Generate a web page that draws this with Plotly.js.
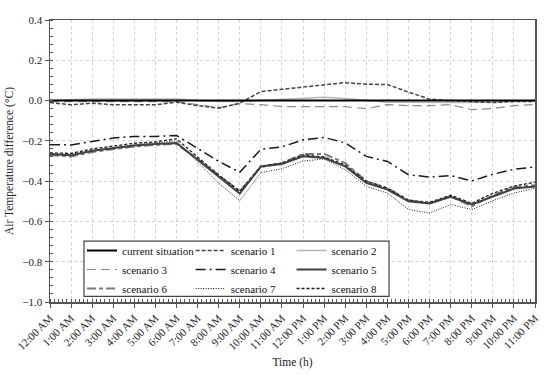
<!DOCTYPE html>
<html>
<head>
<meta charset="utf-8">
<script src="https://cdn.plot.ly/plotly-3.0.1.min.js"></script>
<style>html,body{margin:0;padding:0;background:#fff;}#chart{width:550px;height:375px;}</style>
</head>
<body>
<div id="chart"></div>
<script>
const hours = ['12:00 AM','1:00 AM','2:00 AM','3:00 AM','4:00 AM','5:00 AM','6:00 AM','7:00 AM','8:00 AM','9:00 AM','10:00 AM','11:00 AM',
  '12:00 PM','1:00 PM','2:00 PM','3:00 PM','4:00 PM','5:00 PM','6:00 PM','7:00 PM','8:00 PM','9:00 PM','10:00 PM','11:00 PM'];

const currentSituation = [0,0,0,0,0,0,0,0,0,0,0,0,0,0,0,0,0,0,0,0,0,0,0,0];
const scenario1 = [-0.01,-0.021,-0.013,-0.021,-0.021,-0.021,-0.008,-0.025,-0.038,-0.013,0.045,0.056,0.068,0.08,0.089,0.081,0.08,0.042,0.007,0.0,-0.005,-0.01,-0.005,-0.005];
const scenario2 = [0,0.004,0.008,0.008,0.008,0.008,0.008,0,-0.005,-0.005,0,0.005,0.012,0.017,0.01,0,-0.008,-0.008,-0.01,-0.01,-0.01,-0.008,-0.004,0];
const scenario3 = [-0.005,-0.005,-0.005,-0.005,-0.005,-0.005,-0.005,-0.02,-0.035,-0.015,-0.02,-0.03,-0.03,-0.03,-0.03,-0.04,-0.02,-0.025,-0.025,-0.02,-0.045,-0.04,-0.025,-0.02];
const scenario4 = [-0.219,-0.22,-0.203,-0.186,-0.178,-0.178,-0.173,-0.236,-0.302,-0.356,-0.242,-0.23,-0.195,-0.183,-0.21,-0.277,-0.302,-0.368,-0.38,-0.372,-0.399,-0.366,-0.341,-0.33];
const scenario5 = [-0.265,-0.272,-0.249,-0.236,-0.223,-0.216,-0.211,-0.294,-0.376,-0.462,-0.327,-0.315,-0.277,-0.285,-0.327,-0.409,-0.442,-0.5,-0.511,-0.478,-0.516,-0.475,-0.437,-0.426];
const scenario6 = [-0.27,-0.278,-0.255,-0.24,-0.228,-0.22,-0.215,-0.29,-0.37,-0.45,-0.33,-0.31,-0.265,-0.265,-0.31,-0.4,-0.435,-0.495,-0.51,-0.475,-0.525,-0.47,-0.43,-0.42];
const scenario7 = [-0.27,-0.265,-0.25,-0.235,-0.22,-0.21,-0.2,-0.305,-0.41,-0.497,-0.358,-0.338,-0.3,-0.29,-0.343,-0.426,-0.459,-0.541,-0.558,-0.516,-0.541,-0.497,-0.459,-0.435];
const scenario8 = [-0.26,-0.262,-0.24,-0.225,-0.212,-0.205,-0.19,-0.28,-0.37,-0.45,-0.325,-0.31,-0.27,-0.28,-0.32,-0.4,-0.435,-0.495,-0.505,-0.47,-0.51,-0.46,-0.425,-0.405];

const xIdx = hours.map((h, i) => i);
const FONT = 'Liberation Serif, Times New Roman, serif';

function tr(name, y, color, width, dash, legend, rank) {
  return {type: 'scatter', mode: 'lines', name: name, x: xIdx, y: y,
    line: {color: color, width: width, dash: dash}, legend: legend, legendrank: rank,
    hoverinfo: 'skip'};
}

const data = [
  tr('scenario 3', scenario3, '#8c8c8c', 1.2, '9px,5px', 'legend', 2),
  tr('scenario 2', scenario2, '#b5b5b5', 1.5, 'solid', 'legend3', 1),
  tr('scenario 1', scenario1, '#454545', 1.5, '4px,2px', 'legend2', 1),
  tr('scenario 4', scenario4, '#1a1a1a', 1.5, '10px,4px,2px,4px', 'legend2', 2),
  tr('scenario 6', scenario6, '#7a7a7a', 2, '9px,3px,4px,3px', 'legend', 3),
  tr('scenario 7', scenario7, '#1a1a1a', 1, '1px,1.5px', 'legend2', 3),
  tr('scenario 8', scenario8, '#1a1a1a', 1.3, '3px,2px', 'legend3', 3),
  tr('scenario 5', scenario5, '#404040', 2, 'solid', 'legend3', 2),
  tr('current situation', currentSituation, '#000000', 2, 'solid', 'legend', 1)
];

const legBase = {orientation: 'v', xanchor: 'left', yanchor: 'top', y: 0.234,
  bgcolor: 'rgba(0,0,0,0)', borderwidth: 0, font: {family: FONT, size: 11, color: '#111'},
  traceorder: 'normal', tracegroupgap: 0};

const layout = {
  width: 550, height: 375,
  margin: {l: 50, r: 15, t: 20, b: 73},
  paper_bgcolor: '#fff', plot_bgcolor: '#fff',
  font: {family: FONT, size: 11, color: '#222'},
  showlegend: true,
  legend: Object.assign({}, legBase, {x: 0.066}),
  legend2: Object.assign({}, legBase, {x: 0.29}),
  legend3: Object.assign({}, legBase, {x: 0.498}),
  xaxis: {
    range: [0, 23], tickvals: xIdx, ticktext: hours, tickangle: -45,
    showline: true, mirror: true, linecolor: '#555', linewidth: 1.5,
    ticks: 'outside', ticklen: 4, tickcolor: '#555',
    showgrid: true, gridcolor: '#d2d2d2', griddash: '3px,3px', gridwidth: 1,
    zeroline: false,
    minor: {dtick: 0.2, ticks: 'inside', ticklen: 3, tickcolor: '#555', showgrid: false},
    tickfont: {family: FONT, size: 11, color: '#222'},
    title: {text: 'Time (h)', font: {family: FONT, size: 11.5, color: '#222'}, standoff: 6},
    automargin: false
  },
  yaxis: {
    range: [-1.0, 0.4], dtick: 0.2, tickformat: '.1f',
    showline: true, mirror: true, linecolor: '#555', linewidth: 1.5,
    ticks: 'outside', ticklen: 4, tickcolor: '#555',
    showgrid: true, gridcolor: '#d2d2d2', griddash: '3px,3px', gridwidth: 1,
    zeroline: false,
    minor: {dtick: 0.04, ticks: 'inside', ticklen: 3, tickcolor: '#555', showgrid: false},
    tickfont: {family: FONT, size: 11, color: '#222'},
    title: {text: 'Air Temperature difference (°C)', font: {family: FONT, size: 11.5, color: '#222'}, standoff: 6},
    automargin: false
  },
  shapes: [{type: 'rect', xref: 'paper', yref: 'y', x0: 0.07, x1: 0.699, y0: -0.972, y1: -0.698,
    line: {color: '#444', width: 1.2}, fillcolor: '#ffffff', layer: 'above'}]
};

Plotly.newPlot('chart', data, layout, {displayModeBar: false, staticPlot: true});
</script>
</body>
</html>
